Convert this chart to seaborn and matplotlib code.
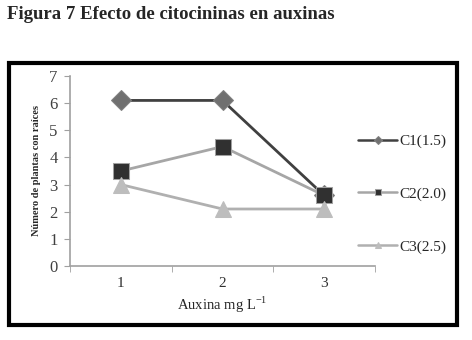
import matplotlib
matplotlib.use("Agg")
import matplotlib.pyplot as plt
import matplotlib.patches as mpatches
import seaborn as sns
import pandas as pd

# data
auxina = [1, 2, 3]
c1 = [6.1, 6.1, 2.6]
c2 = [3.5, 4.4, 2.6]
c3 = [3.0, 2.1, 2.1]
series_names = ["C1(1.5)", "C2(2.0)", "C3(2.5)"]

df = pd.DataFrame({
    "Auxina": auxina * 3,
    "valor": c1 + c2 + c3,
    "serie": [s for s in series_names for _ in auxina],
})

sns.set_style("white")
plt.rcParams["font.family"] = ["Liberation Serif", "DejaVu Serif"]

fig = plt.figure(figsize=(4.72, 3.40), dpi=100)
ax = fig.add_axes([70 / 472, 74 / 340, 305 / 472, 190 / 340])

styles = {
    "C1(1.5)": dict(color="#404040", marker="D", markersize=10,
                    markerfacecolor="#707070", markeredgecolor="#808080"),
    "C2(2.0)": dict(color="#a6a6a6", marker="s", markersize=11,
                    markerfacecolor="#303030", markeredgecolor="#a0a0a0"),
    "C3(2.5)": dict(color="#b0b0b0", marker="^", markersize=12,
                    markerfacecolor="#bdbdbd", markeredgecolor="#bdbdbd"),
}

for name in series_names:
    sub = df[df["serie"] == name]
    sns.lineplot(data=sub, x="Auxina", y="valor", ax=ax, label=name,
                 linewidth=2, **styles[name])

ax.set_xlim(0.5, 3.5)
ax.set_ylim(0, 7)
ax.set_xticks([1, 2, 3])
ax.set_xticks([0.5, 1.5, 2.5, 3.5], minor=True)
ax.set_yticks(range(0, 8))
ax.tick_params(axis="x", which="major", length=0, labelsize=11,
               labelcolor="#303030", pad=8)
ax.tick_params(axis="x", which="minor", length=4, color="#a0a0a0",
               direction="out", bottom=True)
ax.tick_params(axis="y", length=4, color="#a0a0a0", direction="out",
               left=True, labelsize=12, labelcolor="#404040", pad=5)
for side in ["top", "right"]:
    ax.spines[side].set_visible(False)
for side in ["left", "bottom"]:
    ax.spines[side].set_color("#a0a0a0")
    ax.spines[side].set_linewidth(1.2)

ax.set_xlabel("Auxina mg L$^{\\mathregular{-1}}$", fontsize=10.5, labelpad=3)
ax.set_ylabel("Número de plantas con raíces", fontsize=7.5,
              fontweight="bold", labelpad=6)

leg = ax.legend(loc="center left", bbox_to_anchor=(344 / 472, 146 / 340),
                bbox_transform=fig.transFigure, frameon=False, fontsize=11,
                labelspacing=2.55, handlelength=2.6, handletextpad=0.15)
for h in leg.legend_handles:
    h.set_markersize(4)
    h.set_linewidth(1.8)

fig.text(7 / 472, 1 - 19 / 340, "Figura 7 Efecto de citocininas en auxinas",
         fontsize=13.5, fontweight="bold", va="baseline", ha="left")

frame = mpatches.Rectangle((9 / 472, 15 / 340), 448 / 472, 262 / 340,
                           transform=fig.transFigure, fill=False,
                           edgecolor="black", linewidth=3)
fig.patches.append(frame)

fig.savefig("out.png", dpi=100)
